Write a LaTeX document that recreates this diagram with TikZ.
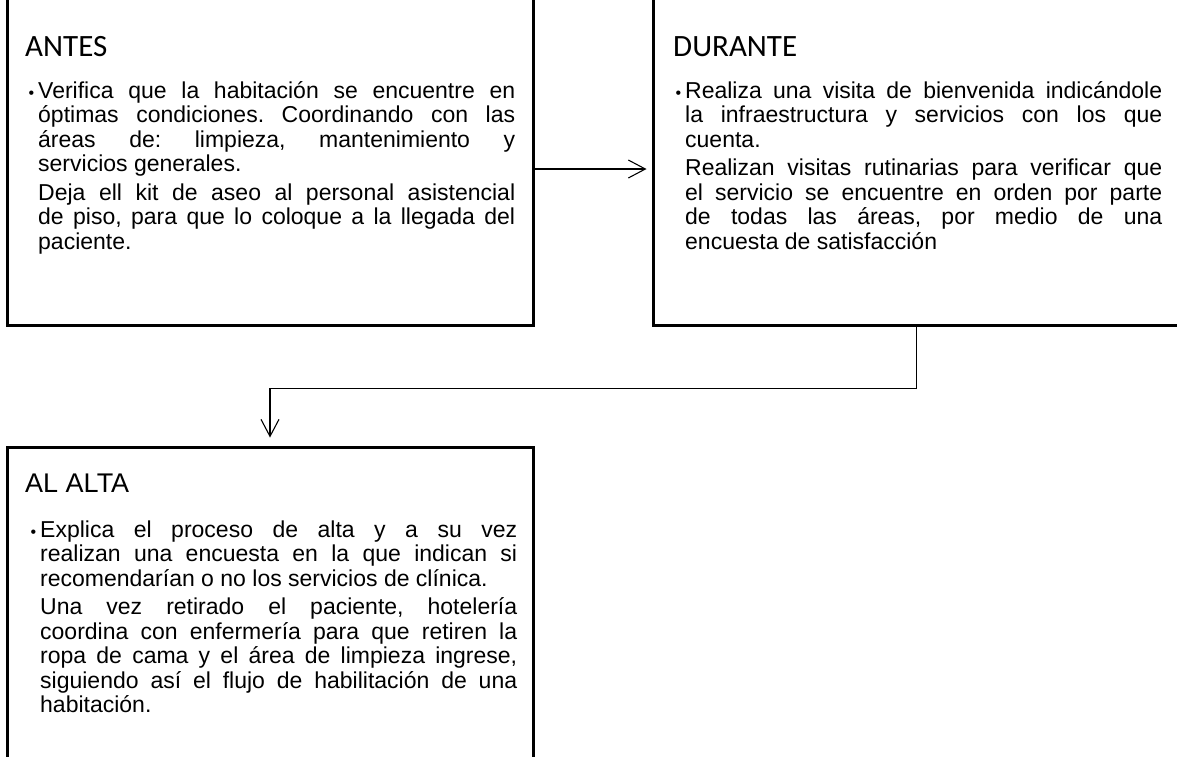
\documentclass[tikz,border=0pt]{standalone}
\usepackage{fontspec}
\setmainfont{Liberation Sans}
\newfontfamily\headfont{Carlito}
\usetikzlibrary{positioning,arrows.meta}

% body text: Arial-like, tight leading, small gap between paragraphs
\newcommand{\bodytext}{\fontsize{23}{24.5}\selectfont\frenchspacing\setlength{\parindent}{0pt}%
  \setlength{\parskip}{4pt}\tolerance=9999\relax}
\newcommand{\itemdot}{\leavevmode\llap{\fontsize{16}{16}\selectfont\textbullet\hspace{4pt}}\rule{0pt}{22pt}}

\begin{document}
\begin{tikzpicture}[x=1pt, y=-1pt,
    >={Straight Barb[length=17pt,width=18pt]},
    box/.style={draw, line width=3pt, inner sep=0pt, minimum width=526pt},
    head/.style={anchor=base west, inner sep=0pt},
    body/.style={anchor=north west, inner sep=0pt, text width=477pt,
                 align=justify, font=\bodytext},
    link/.style={->, line width=1.1pt}]
  \useasboundingbox (0,0) rectangle (1177,756);
  \clip (0,0) rectangle (1177,756);

  % the three stages
  \node[box, minimum height=345pt] (antes) at (270,152.5) {};
  \node[box, minimum height=345pt, minimum width=527pt, right=117pt of antes] (durante) {};
  \node[box, minimum height=340pt, below=119pt of antes] (alta) {};

  \node[head, font=\headfont\fontsize{31}{31}\selectfont] (antesHead) at (25,56) {ANTES};
  \node[body] (antesTxt) at (38,76) {\itemdot Verifica que la habitación se encuentre en\linebreak
    óptimas condiciones. Coordinando con las\linebreak
    áreas de: limpieza, mantenimiento y\linebreak
    servicios generales.\par
    Deja ell kit de aseo al personal asistencial\linebreak
    de piso, para que lo coloque a la llegada del\linebreak
    paciente.};

  \node[head, font=\headfont\fontsize{31}{31}\selectfont] (duranteHead) at (673,56) {DURANTE};
  \node[body] (duranteTxt) at (685,76) {\itemdot Realiza una visita de bienvenida indicándole\linebreak
    la infraestructura y servicios con los que\linebreak
    cuenta.\par
    Realizan visitas rutinarias para verificar que\linebreak
    el servicio se encuentre en orden por parte\linebreak
    de todas las áreas, por medio de una\linebreak
    encuesta de satisfacción};

  \node[head, font=\fontsize{27}{27}\selectfont] (altaHead) at (25,492) {AL ALTA};
  \node[body] (altaTxt) at (40,515) {\itemdot Explica el proceso de alta y a su vez\linebreak
    realizan una encuesta en la que indican si\linebreak
    recomendarían o no los servicios de clínica.\par
    Una vez retirado el paciente, hotelería\linebreak
    coordina con enfermería para que retiren la\linebreak
    ropa de cama y el área de limpieza ingrese,\linebreak
    siguiendo así el flujo de habilitación de una\linebreak
    habitación.};

  % flow between stages
  \draw[link, shorten >=5pt] ([yshift=-16.5pt]antes.east) -- ([yshift=-16.5pt]durante.west);
  \draw[link, shorten >=8pt] (durante.south) -- ++(0,62) -| (alta.north);
\end{tikzpicture}
\end{document}
